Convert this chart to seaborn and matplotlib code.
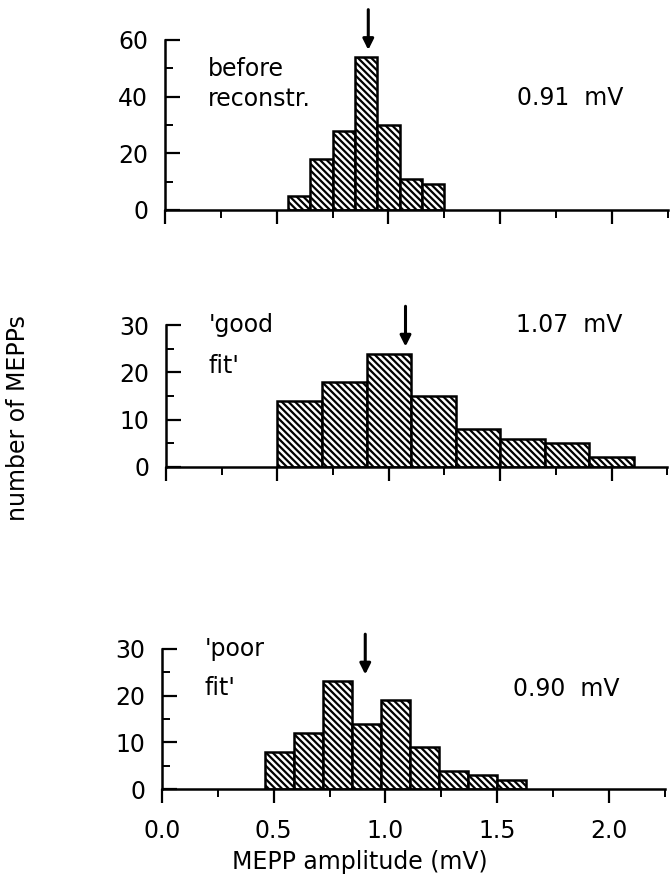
import matplotlib
matplotlib.use('Agg')
import matplotlib.pyplot as plt
from matplotlib.ticker import MultipleLocator
import numpy as np
import seaborn as sns

sns.set_style('ticks')
plt.rcParams['font.family'] = ['DejaVu Sans']
plt.rcParams['hatch.linewidth'] = 1.6
plt.rcParams['text.color'] = 'black'
plt.rcParams['xtick.color'] = 'black'
plt.rcParams['ytick.color'] = 'black'
plt.rcParams['xtick.labelcolor'] = 'black'
plt.rcParams['ytick.labelcolor'] = 'black'

# bin edges (mV) and counts for each histogram
edges_before = [0.55, 0.65, 0.75, 0.85, 0.95, 1.05, 1.15, 1.25]
counts_before = [5, 18, 28, 54, 30, 11, 9]
edges_good = [0.5, 0.7, 0.9, 1.1, 1.3, 1.5, 1.7, 1.9, 2.1]
counts_good = [14, 18, 24, 15, 8, 6, 5, 2]
edges_poor = [0.46, 0.59, 0.72, 0.85, 0.98, 1.11, 1.24, 1.37, 1.50, 1.63]
counts_poor = [8, 12, 23, 14, 19, 9, 4, 3, 2]

means = [0.91, 1.075, 0.91]
mean_labels = ['0.91  mV', '1.07  mV', '0.90  mV']
panel_labels = [['before', 'reconstr.'], ["'good", "fit'"], ["'poor", "fit'"]]
ymax = [60, 30, 30]
yticks = [[0, 20, 40, 60], [0, 10, 20, 30], [0, 10, 20, 30]]
xticks = [0.0, 0.5, 1.0, 1.5, 2.0]

# layout (fractions of each panel's y range)
line1_y = [0.83, 1.0, 1.0]
line2_y = [0.65, 0.71, 0.72]
mean_y = [0.66, 1.0, 0.71]

fig = plt.figure(figsize=(6.72, 8.86), dpi=100)
rects = [[0.2455, 0.763, 0.748, 0.192],
         [0.247, 0.473, 0.746, 0.160],
         [0.241, 0.109, 0.748, 0.159]]
axes = [fig.add_axes(r) for r in rects]

data = [(edges_before, counts_before), (edges_good, counts_good), (edges_poor, counts_poor)]
fs = 17
for i, ax in enumerate(axes):
    edges, counts = data[i]
    e = np.array(edges)
    centers = (e[:-1] + e[1:]) / 2
    sns.histplot(x=centers, weights=counts, bins=edges, ax=ax, color='white',
                 edgecolor='black', linewidth=1.8, hatch='\\' * 5, alpha=1)
    ax.set_xlim(0, 2.25)
    ax.set_ylim(0, ymax[i])
    ax.set_xticks(xticks)
    ax.xaxis.set_minor_locator(MultipleLocator(0.25))
    ax.set_yticks(yticks[i])
    ax.yaxis.set_minor_locator(MultipleLocator(ymax[i] / 6))
    ax.tick_params(axis='x', which='major', direction='out', length=10, width=1.6,
                   labelsize=fs, pad=11)
    ax.tick_params(axis='x', which='minor', direction='out', length=6, width=1.4)
    ax.tick_params(axis='y', which='major', direction='in', length=11, width=1.6,
                   labelsize=fs, pad=12)
    ax.tick_params(axis='y', which='minor', direction='in', length=6, width=1.4)
    if i < 2:
        ax.tick_params(axis='x', labelbottom=False)
    else:
        ax.set_xticklabels(['0.0', '0.5', '1.0', '1.5', '2.0'])
    ax.set_xlabel('')
    ax.set_ylabel('')
    sns.despine(ax=ax)
    for sp in ['left', 'bottom']:
        ax.spines[sp].set_linewidth(1.8)
        ax.spines[sp].set_color('black')

    top = max(counts)
    ax.annotate('', xy=(means[i], top), xytext=(0, 34), textcoords='offset points',
                arrowprops=dict(arrowstyle='-|>', lw=2.2, color='black',
                                mutation_scale=16, shrinkA=0, shrinkB=5),
                annotation_clip=False)
    ax.text(0.19, ymax[i] * line1_y[i], panel_labels[i][0], fontsize=fs,
            ha='left', va='center')
    ax.text(0.19, ymax[i] * line2_y[i], panel_labels[i][1], fontsize=fs,
            ha='left', va='center')
    ax.text(2.05, ymax[i] * mean_y[i], mean_labels[i], fontsize=fs,
            ha='right', va='center')

fig.text(0.027, 1 - 418 / 886, 'number of MEPPs', rotation=90, fontsize=fs,
         ha='center', va='center')
fig.text(360 / 672, 1 - 862 / 886, 'MEPP amplitude (mV)', fontsize=fs,
         ha='center', va='center')

fig.savefig('out.png', dpi=100)
